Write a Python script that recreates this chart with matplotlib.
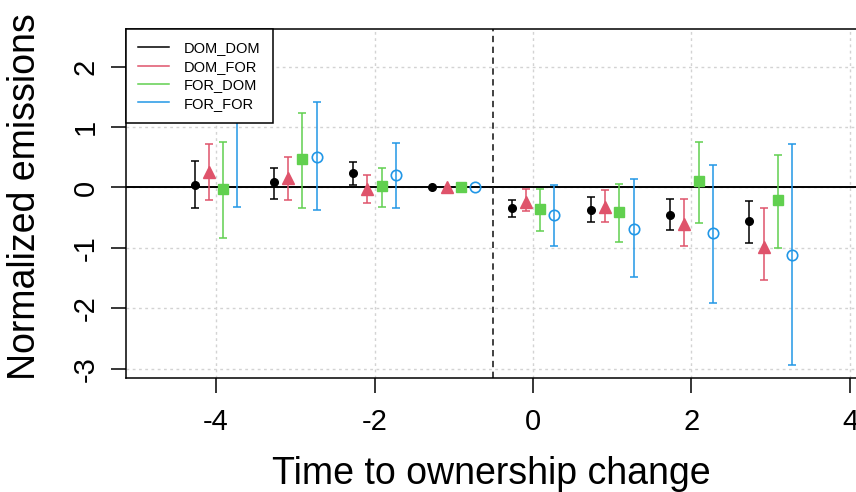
import matplotlib
matplotlib.use('Agg')
import matplotlib.pyplot as plt
import numpy as np
from matplotlib.lines import Line2D

plt.rcParams['font.family'] = ['Liberation Sans', 'DejaVu Sans']
plt.rcParams['axes.unicode_minus'] = False

# time relative to the ownership change
times = [-4, -3, -2, -1, 0, 1, 2, 3]

dom_dom = [0.04, 0.09, 0.24, 0, -0.34, -0.37, -0.46, -0.56]
dom_dom_lo = [-0.34, -0.19, 0.04, 0, -0.49, -0.57, -0.71, -0.92]
dom_dom_hi = [0.44, 0.33, 0.42, 0, -0.21, -0.16, -0.19, -0.22]

dom_for = [0.25, 0.15, -0.03, 0, -0.24, -0.32, -0.60, -0.98]
dom_for_lo = [-0.21, -0.21, -0.26, 0, -0.39, -0.57, -0.97, -1.54]
dom_for_hi = [0.72, 0.51, 0.21, 0, -0.03, -0.04, -0.19, -0.34]

for_dom = [-0.02, 0.47, 0.03, 0, -0.36, -0.41, 0.11, -0.21]
for_dom_lo = [-0.84, -0.34, -0.32, 0, -0.72, -0.91, -0.59, -1.00]
for_dom_hi = [0.76, 1.24, 0.33, 0, -0.03, 0.06, 0.76, 0.54]

for_for = [1.25, 0.51, 0.21, 0, -0.46, -0.69, -0.76, -1.12]
for_for_lo = [-0.32, -0.38, -0.34, 0, -0.97, -1.49, -1.92, -2.94]
for_for_hi = [2.40, 1.42, 0.74, 0, 0.04, 0.14, 0.37, 0.72]

labels = ['DOM_DOM', 'DOM_FOR', 'FOR_DOM', 'FOR_FOR']
colors = ['black', '#DF536B', '#61D04F', '#2297E6']
markers = ['o', '^', 's', 'o']
msizes = [5.5, 8, 7, 7.5]
offsets = [-0.27, -0.09, 0.09, 0.27]

series = [(dom_dom, dom_dom_lo, dom_dom_hi),
          (dom_for, dom_for_lo, dom_for_hi),
          (for_dom, for_dom_lo, for_dom_hi),
          (for_for, for_for_lo, for_for_hi)]

fig = plt.figure(figsize=(8.56, 4.92), dpi=100)
W, H = 856, 492
left, right, top, bottom = 126, 878.5, 29, 377.5
ax = fig.add_axes([left / W, 1 - bottom / H, (right - left) / W, (bottom - top) / H])

ax.set_xlim(-5.136, 4.36)
ax.set_ylim(-3.146, 2.624)

ax.set_xticks([-4, -2, 0, 2, 4])
ax.set_yticks([-3, -2, -1, 0, 1, 2])
ax.grid(True, color='lightgray', linestyle=(0, (2, 2.5)), linewidth=1)
ax.set_axisbelow(True)

ax.axhline(0, color='black', lw=1.4, zorder=1.5)
ax.axvline(-0.5, color='#333333', lw=1.3, linestyle=(0, (3.5, 2.5)), zorder=1.5)

t = np.array(times, dtype=float)
for (y, lo, hi), c, m, ms, off in zip(series, colors, markers, msizes, offsets):
    y = np.array(y); lo = np.array(lo); hi = np.array(hi)
    x = t + off
    has_bar = hi > lo
    ax.errorbar(x[has_bar], y[has_bar], yerr=[y[has_bar] - lo[has_bar], hi[has_bar] - y[has_bar]],
                fmt='none', ecolor=c, elinewidth=1.1, capsize=3, capthick=1.1, zorder=3)
    if c == '#2297E6':
        ax.plot(x, y, linestyle='none', marker=m, ms=ms, mfc='none', mec=c, mew=1.2, zorder=4)
    else:
        ax.plot(x, y, linestyle='none', marker=m, ms=ms, color=c, zorder=4)

for sp in ax.spines.values():
    sp.set_linewidth(1.1)
ax.tick_params(axis='both', length=11, width=1.1, labelsize=21)
ax.tick_params(axis='x', pad=11)
ax.tick_params(axis='y', pad=8)
plt.setp(ax.get_yticklabels(), rotation=90, va='center')

ax.set_xlabel('Time to ownership change', fontsize=27, va='baseline')
ax.xaxis.set_label_coords(0.486, -0.306)
ax.set_ylabel('Normalized emissions', fontsize=27, va='center')
ax.yaxis.set_label_coords(-0.134, 0.519)

handles = [Line2D([0], [0], color=c, lw=1.1) for c in colors]
leg = ax.legend(handles, labels, loc='upper left', borderaxespad=0, fontsize=10.5,
                fancybox=False, framealpha=1, edgecolor='black', handlelength=2.1,
                handletextpad=1.0, labelspacing=0.3, borderpad=0.85)
leg.get_frame().set_linewidth(1.1)
leg.set_zorder(10)

fig.savefig('out.png', dpi=100)
